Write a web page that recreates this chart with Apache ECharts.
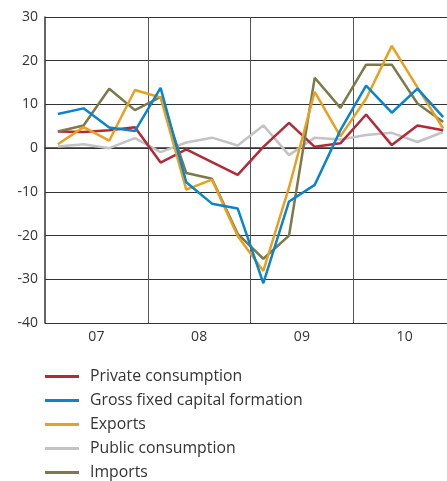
<!DOCTYPE html>
<html><head><meta charset="utf-8">
<script src="https://cdn.jsdelivr.net/npm/echarts@6/dist/echarts.min.js"></script>
<style>html,body{margin:0;padding:0;background:#fff;overflow:hidden;width:447px;height:481px}#c{width:458px;height:481px}</style>
</head><body><div id="c"></div>
<script>
const quarters = ['07Q1','07Q2','07Q3','07Q4','08Q1','08Q2','08Q3','08Q4','09Q1','09Q2','09Q3','09Q4','10Q1','10Q2','10Q3','10Q4'];
const yearLabels = ['07','08','09','10'];
const privateConsumption = [3.8,3.7,4.1,4.8,-3.3,-0.3,-3.2,-6.1,0.3,5.8,0.3,1.1,7.7,0.7,5.2,4.1];
const grossFixedCapital = [7.8,9.1,4.7,3.9,13.8,-7.8,-12.7,-13.8,-30.9,-12.2,-8.4,4.1,14.3,8.1,13.6,7.1];
const exportsData = [0.9,4.8,1.7,13.3,11.6,-9.5,-7.2,-20.1,-28.1,-9.0,12.9,2.7,11.3,23.4,13.9,4.5];
const publicConsumption = [0.4,0.9,0.0,2.3,-0.9,1.3,2.4,0.6,5.2,-1.6,2.4,2.0,3.0,3.5,1.4,3.7];
const importsData = [3.8,5.2,13.6,8.7,11.7,-5.7,-7.0,-19.6,-25.3,-20.0,16.1,9.2,19.1,19.1,10.2,6.0];
const yTicks = {min:-40, max:30, step:10};

const font = '"Open Sans", "Noto Sans", sans-serif';
const chart = echarts.init(document.getElementById('c'), null, {renderer:'canvas'});
function line(name, data, color){
  return {name, type:'line', data, symbol:'none', xAxisIndex:0,
    lineStyle:{color, width:2.5}, itemStyle:{color}, animation:false};
}
chart.setOption({
  animation:false,
  textStyle:{fontFamily:font},
  grid:{left:45, top:17, width:411, height:306, containLabel:false},
  xAxis:[{
    type:'category', data:quarters, boundaryGap:true, position:'bottom',
    axisLine:{show:true, lineStyle:{color:'#333', width:1.5}},
    axisTick:{show:false}, axisLabel:{show:false},
    splitLine:{show:true, interval:(i)=> i%4===0 && i>0, lineStyle:{color:'#555', width:1}}
  },{
    type:'category', data:yearLabels, boundaryGap:true, position:'bottom',
    axisLine:{show:false}, axisTick:{show:false}, splitLine:{show:false},
    axisLabel:{color:'#333', fontSize:14, fontFamily:font, margin:7}
  }],
  yAxis:{
    type:'value', min:yTicks.min, max:yTicks.max, interval:yTicks.step,
    axisLine:{show:true, lineStyle:{color:'#333', width:1.5}},
    axisTick:{show:false},
    axisLabel:{color:'#333', fontSize:14, fontFamily:font, margin:7},
    splitLine:{show:true, lineStyle:{color:'#333', width:1}}
  },
  legend:{
    orient:'vertical', left:45, top:367, height:140, itemWidth:34, itemHeight:3, itemGap:5,
    icon:'rect', padding:0,
    textStyle:{color:'#333', fontSize:15.8, fontFamily:font, padding:[0,0,0,6], lineHeight:19},
    data:['Private consumption','Gross fixed capital formation','Exports','Public consumption','Imports']
  },
  series:[
    line('Public consumption', publicConsumption, '#c3c3c3'),
    line('Private consumption', privateConsumption, '#b22a35'),
    line('Imports', importsData, '#7b7a4a'),
    line('Exports', exportsData, '#e8a020'),
    line('Gross fixed capital formation', grossFixedCapital, '#0a84cc')
  ]
});
</script></body></html>
